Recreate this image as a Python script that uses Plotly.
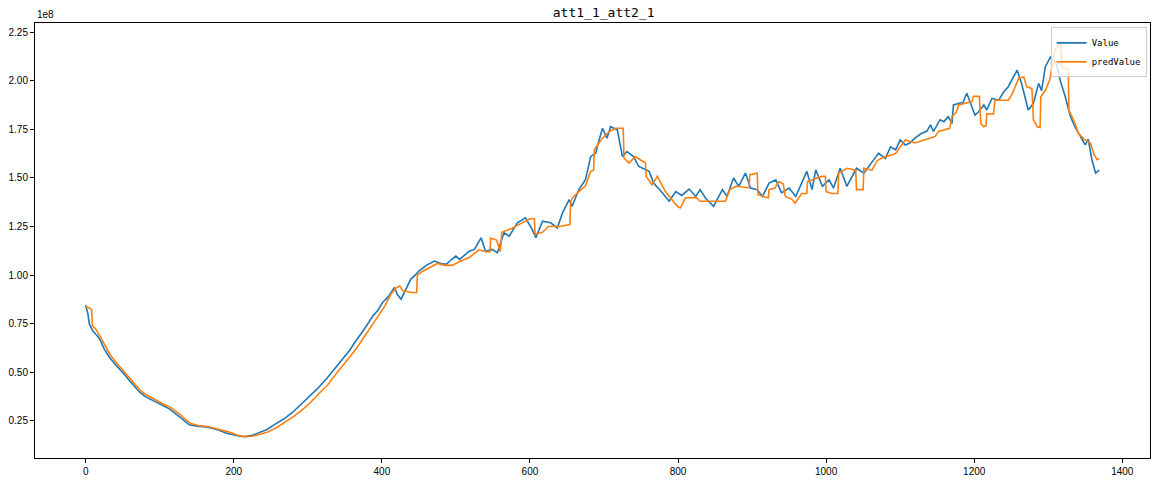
import plotly.graph_objects as go

# values in units of 1e8
value_x = [0, 3, 5, 10, 15, 19, 25, 32, 40, 46, 53, 59, 66, 73, 80, 86, 93, 100, 107, 113, 120, 127, 134, 140, 150, 163, 172, 181, 190, 200, 208, 215, 225, 235, 245, 257, 268, 280, 290, 302, 313, 325, 336, 347, 356, 365, 376, 388, 395, 401, 409, 417, 421, 426, 432, 439, 445, 450, 460, 471, 480, 487, 494, 500, 505, 511, 518, 525, 534, 540, 549, 556, 565, 572, 583, 594, 603, 608, 617, 628, 637, 644, 653, 657, 666, 675, 682, 689, 691, 698, 704, 709, 718, 725, 731, 740, 747, 761, 767, 779, 788, 797, 805, 815, 824, 830, 837, 848, 860, 866, 875, 882, 891, 898, 907, 914, 923, 932, 940, 950, 959, 965, 974, 981, 986, 995, 1004, 1010, 1019, 1028, 1037, 1041, 1051, 1062, 1071, 1080, 1087, 1094, 1100, 1107, 1113, 1120, 1129, 1136, 1141, 1145, 1154, 1159, 1165, 1170, 1172, 1179, 1185, 1190, 1195, 1201, 1206, 1213, 1217, 1224, 1233, 1240, 1246, 1251, 1258, 1264, 1269, 1273, 1280, 1287, 1291, 1296, 1303, 1307, 1311, 1316, 1323, 1330, 1336, 1343, 1350, 1354, 1359, 1364, 1369]
value_y = [0.846, 0.80, 0.747, 0.71, 0.69, 0.67, 0.62, 0.577, 0.54, 0.517, 0.485, 0.457, 0.425, 0.397, 0.375, 0.363, 0.35, 0.337, 0.322, 0.311, 0.29, 0.269, 0.245, 0.229, 0.222, 0.218, 0.21, 0.20, 0.185, 0.175, 0.17, 0.168, 0.175, 0.19, 0.205, 0.235, 0.26, 0.295, 0.33, 0.372, 0.415, 0.465, 0.515, 0.568, 0.61, 0.662, 0.72, 0.79, 0.82, 0.859, 0.89, 0.936, 0.90, 0.876, 0.92, 0.978, 1.00, 1.021, 1.05, 1.072, 1.06, 1.055, 1.08, 1.098, 1.081, 1.10, 1.123, 1.132, 1.192, 1.123, 1.132, 1.115, 1.218, 1.20, 1.269, 1.295, 1.235, 1.192, 1.277, 1.269, 1.243, 1.32, 1.388, 1.354, 1.44, 1.491, 1.61, 1.628, 1.662, 1.756, 1.705, 1.764, 1.748, 1.61, 1.636, 1.61, 1.559, 1.534, 1.474, 1.423, 1.38, 1.43, 1.41, 1.443, 1.405, 1.44, 1.397, 1.354, 1.44, 1.405, 1.50, 1.457, 1.525, 1.448, 1.44, 1.405, 1.474, 1.49, 1.423, 1.448, 1.405, 1.457, 1.534, 1.44, 1.542, 1.457, 1.49, 1.448, 1.55, 1.457, 1.517, 1.55, 1.525, 1.585, 1.628, 1.60, 1.66, 1.645, 1.696, 1.67, 1.68, 1.705, 1.73, 1.74, 1.773, 1.74, 1.80, 1.79, 1.816, 1.78, 1.876, 1.884, 1.89, 1.936, 1.884, 1.824, 1.841, 1.876, 1.85, 1.91, 1.90, 1.944, 1.97, 2.004, 2.055, 1.987, 1.901, 1.85, 1.884, 1.987, 1.95, 2.072, 2.123, 2.11, 2.09, 2.004, 1.918, 1.816, 1.764, 1.713, 1.67, 1.70, 1.594, 1.525, 1.54]

pred_x = [0, 5, 8, 9, 14, 20, 26, 33, 40, 47, 54, 60, 67, 74, 81, 87, 94, 101, 108, 114, 121, 128, 135, 142, 152, 165, 175, 185, 195, 205, 215, 225, 235, 245, 258, 270, 282, 292, 304, 315, 327, 338, 349, 358, 367, 378, 390, 397, 404, 412, 418, 424, 428, 440, 447, 448, 455, 465, 475, 485, 495, 505, 518, 531, 540, 546, 547, 555, 560, 562, 575, 590, 600, 606, 607, 617, 625, 640, 654, 655, 658, 666, 675, 682, 686, 687, 698, 707, 716, 726, 727, 734, 742, 756, 757, 765, 772, 783, 799, 803, 810, 824, 830, 864, 870, 878, 891, 896, 897, 907, 908, 922, 923, 931, 936, 942, 945, 954, 958, 967, 974, 975, 994, 999, 1000, 1008, 1016, 1017, 1028, 1037, 1040, 1041, 1050, 1051, 1062, 1069, 1080, 1090, 1095, 1100, 1107, 1120, 1129, 1147, 1152, 1167, 1170, 1176, 1179, 1197, 1199, 1207, 1209, 1213, 1216, 1217, 1226, 1228, 1246, 1251, 1260, 1267, 1271, 1278, 1280, 1285, 1289, 1290, 1296, 1302, 1309, 1316, 1317, 1318, 1325, 1327, 1328, 1334, 1341, 1348, 1357, 1362, 1366, 1369]
pred_y = [0.84, 0.83, 0.824, 0.74, 0.72, 0.68, 0.64, 0.59, 0.555, 0.525, 0.495, 0.465, 0.435, 0.405, 0.385, 0.372, 0.36, 0.345, 0.33, 0.32, 0.30, 0.28, 0.255, 0.235, 0.225, 0.22, 0.21, 0.20, 0.19, 0.175, 0.168, 0.17, 0.18, 0.19, 0.215, 0.245, 0.275, 0.305, 0.345, 0.39, 0.435, 0.49, 0.54, 0.585, 0.63, 0.69, 0.76, 0.80, 0.84, 0.90, 0.93, 0.944, 0.92, 0.91, 0.91, 1.00, 1.02, 1.04, 1.06, 1.05, 1.05, 1.07, 1.09, 1.13, 1.12, 1.12, 1.19, 1.18, 1.12, 1.22, 1.24, 1.27, 1.29, 1.29, 1.21, 1.22, 1.25, 1.25, 1.26, 1.38, 1.40, 1.43, 1.46, 1.534, 1.54, 1.645, 1.705, 1.739, 1.756, 1.756, 1.602, 1.577, 1.61, 1.577, 1.508, 1.465, 1.508, 1.43, 1.354, 1.346, 1.397, 1.40, 1.38, 1.38, 1.44, 1.457, 1.45, 1.45, 1.517, 1.525, 1.414, 1.397, 1.44, 1.448, 1.482, 1.47, 1.405, 1.39, 1.37, 1.42, 1.42, 1.482, 1.508, 1.508, 1.43, 1.42, 1.42, 1.525, 1.55, 1.54, 1.54, 1.44, 1.44, 1.55, 1.54, 1.59, 1.61, 1.62, 1.63, 1.66, 1.696, 1.68, 1.69, 1.713, 1.74, 1.756, 1.816, 1.84, 1.876, 1.893, 1.92, 1.92, 1.78, 1.764, 1.77, 1.83, 1.83, 1.90, 1.90, 1.93, 2.013, 2.02, 1.97, 1.96, 1.80, 1.764, 1.76, 1.918, 1.95, 2.004, 2.158, 2.192, 2.20, 2.072, 2.064, 2.06, 1.85, 1.80, 1.73, 1.70, 1.68, 1.62, 1.594, 1.60]

x_ticks = [0, 200, 400, 600, 800, 1000, 1200, 1400]
y_ticks = [0.25, 0.50, 0.75, 1.00, 1.25, 1.50, 1.75, 2.00, 2.25]
title_text = "att1_1_att2_1"
series_names = ["Value", "predValue"]

MONO = "DejaVu Sans Mono, monospace"
SANS = "Liberation Sans, Arial, sans-serif"

fig = go.Figure()
fig.add_trace(go.Scatter(x=value_x, y=value_y, mode="lines", name=series_names[0],
                         line=dict(color="#1f77b4", width=1.6)))
fig.add_trace(go.Scatter(x=pred_x, y=pred_y, mode="lines", name=series_names[1],
                         line=dict(color="#ff7f0e", width=1.6)))

axis_common = dict(showgrid=False, zeroline=False, showline=True, linecolor="black",
                   linewidth=1, mirror=True, ticks="outside", ticklen=4, tickwidth=1,
                   tickcolor="black", automargin=False,
                   tickfont=dict(family=SANS, size=10, color="black"))

fig.update_layout(
    width=1161, height=480,
    margin=dict(l=35, r=11, t=23, b=22, autoexpand=False),
    paper_bgcolor="white", plot_bgcolor="white",
    title=dict(text=title_text, x=0.51, xanchor="center", y=0.975, yanchor="middle",
               xref="paper", automargin=False,
               font=dict(family=MONO, size=13, color="black")),
    xaxis=dict(range=[-68.45, 1437.45], tickvals=x_ticks,
               ticktext=[str(v) for v in x_ticks], **axis_common),
    yaxis=dict(range=[0.058, 2.298], tickvals=y_ticks,
               ticktext=[f"{v:.2f}" for v in y_ticks], **axis_common),
    legend=dict(x=0.997, y=0.99, xanchor="right", yanchor="top",
                bgcolor="rgba(255,255,255,0.8)", bordercolor="#cccccc", borderwidth=1,
                font=dict(family=MONO, size=9, color="black"),
                tracegroupgap=0, itemwidth=30),
    showlegend=True,
)
fig.add_annotation(text="1e8", xref="paper", yref="paper", x=0, y=1, xanchor="left",
                   yanchor="bottom", showarrow=False,
                   font=dict(family=SANS, size=10, color="black"), yshift=1)

# remove the default page margin so the figure fills the window exactly
fig.write_html("out.html", config={"displayModeBar": False},
               post_script="document.body.style.margin='0';document.body.style.overflow='hidden';")
